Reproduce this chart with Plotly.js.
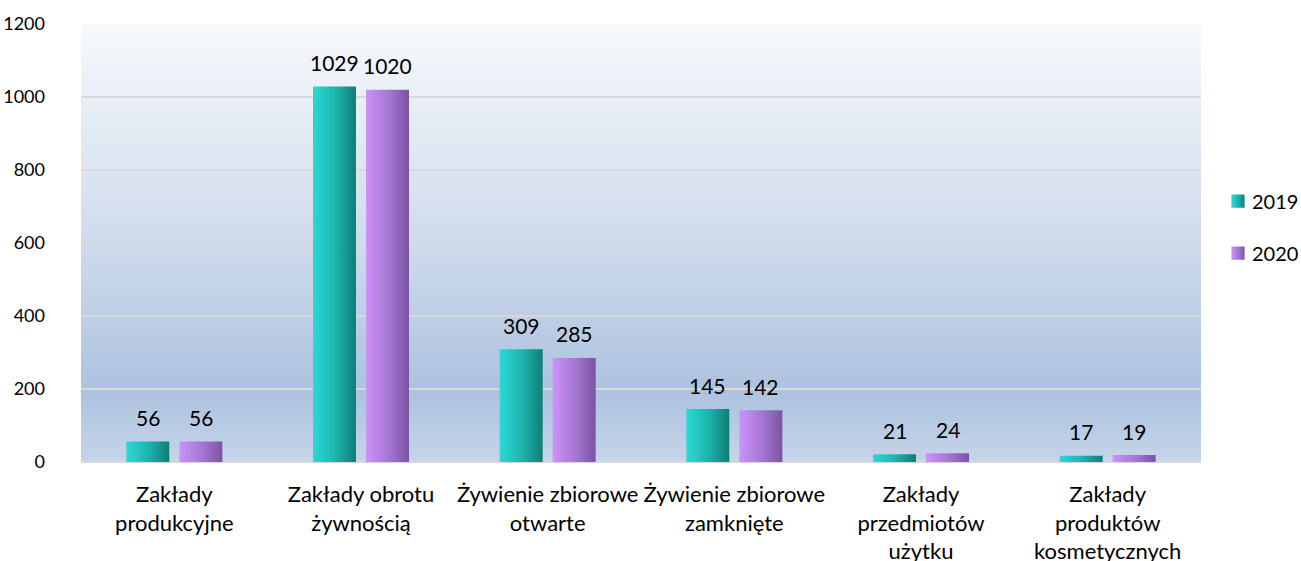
<!DOCTYPE html>
<html>
<head>
<meta charset="utf-8">
<script src="https://cdn.plot.ly/plotly-3.0.1.min.js"></script>
<style>
html,body{margin:0;padding:0;background:#fff;}
#chart{width:1301px;height:561px;}
</style>
</head>
<body>
<div id="chart"></div>
<script>
const categories = [
  "Zakłady<br>produkcyjne",
  "Zakłady obrotu<br>żywnością",
  "Żywienie zbiorowe<br>otwarte",
  "Żywienie zbiorowe<br>zamknięte",
  "Zakłady<br>przedmiotów<br>użytku",
  "Zakłady<br>produktów<br>kosmetycznych"
];
const values2019 = [56, 1029, 309, 145, 21, 17];
const values2020 = [56, 1020, 285, 142, 24, 19];
const seriesNames = ["2019", "2020"];
const yTicks = [0, 200, 400, 600, 800, 1000, 1200];

const FONT = "Lato, 'Open Sans', sans-serif";

const traces = [
  {type:'bar', name:seriesNames[0], x:categories, y:values2019,
   marker:{color:'#1fb3ad'}, legendgroup:'a', hoverinfo:'none'},
  {type:'bar', name:seriesNames[1], x:categories, y:values2020,
   marker:{color:'#a874d4'}, legendgroup:'b', hoverinfo:'none'}
];

const annotations = [];
[values2019, values2020].forEach((vals, si) => {
  vals.forEach((v, i) => {
    annotations.push({
      x: categories[i], y: v, xref:'x', yref:'y',
      text: String(v), showarrow:false,
      xshift: si === 0 ? -26.5 : 26.5,
      yanchor:'middle', yshift: 24,
      font:{family:FONT, size:21, color:'#000'}
    });
  });
});

const layout = {
  width:1301, height:561,
  margin:{l:81, r:100, t:24, b:99, autoexpand:false},
  paper_bgcolor:'#ffffff',
  plot_bgcolor:'#c8d6ea',
  barmode:'group',
  bargap:0.432,
  bargroupgap:0.189,
  showlegend:true,
  legend:{
    x:1.0098, xanchor:'left', y:0.64, yanchor:'top',
    font:{family:FONT, size:20, color:'#000'},
    traceorder:'grouped', tracegroupgap:23,
    bgcolor:'rgba(0,0,0,0)', itemwidth:30
  },
  xaxis:{
    type:'category', automargin:false,
    showgrid:false, showline:false, zeroline:false,
    ticks:'', tickfont:{family:FONT, size:22, color:'#000'},
    ticklabelstandoff:17, fixedrange:true
  },
  yaxis:{
    range:[0,1200], tickvals:yTicks, ticktext:yTicks.map(String), automargin:false,
    showgrid:true, gridcolor:'#d9d9d9', gridwidth:2,
    zeroline:true, zerolinecolor:'#d9d9d9', zerolinewidth:2,
    showline:false, ticks:'',
    tickfont:{family:FONT, size:18, color:'#000'},
    ticklabelstandoff:35, fixedrange:true
  },
  annotations: annotations
};

function applyGradients(gd){
  const svg = gd.querySelector('svg.main-svg');
  if(!svg) return;
  const ns = 'http://www.w3.org/2000/svg';
  let defs = svg.querySelector('defs');
  if(!defs){ defs = document.createElementNS(ns,'defs'); svg.insertBefore(defs, svg.firstChild); }
  function grad(id, x2, y2, stops){
    if(defs.querySelector('#'+id)) return;
    const g = document.createElementNS(ns,'linearGradient');
    g.setAttribute('id', id);
    g.setAttribute('x1','0'); g.setAttribute('y1','0');
    g.setAttribute('x2',x2); g.setAttribute('y2',y2);
    stops.forEach(s => {
      const st = document.createElementNS(ns,'stop');
      st.setAttribute('offset', s[0]);
      st.setAttribute('stop-color', s[1]);
      g.appendChild(st);
    });
    defs.appendChild(g);
  }
  grad('gTeal','1','0',[['0','#2ad9d6'],['0.5','#1eb6b0'],['1','#127c76']]);
  grad('gPurp','1','0',[['0','#cd91fb'],['0.5','#a878d6'],['1','#7a54a1']]);
  grad('gBg','0','1',[['0','#f7f9fc'],['0.45','#d3deed'],['0.84','#adc2df'],['1','#c5d5e9']]);
  const fills = ['url(#gTeal)','url(#gPurp)'];
  gd.querySelectorAll('.barlayer .trace.bars').forEach((t, i) => {
    t.querySelectorAll('path').forEach(p => { p.style.fill = fills[i % 2]; });
  });
  gd.querySelectorAll('.legend .traces').forEach((t, i) => {
    t.querySelectorAll('.legendpoints path').forEach(p => {
      p.style.fill = fills[i % 2]; p.style.stroke = 'none';
      const old = p.getAttribute('transform') || '';
      p.setAttribute('transform', old + ' translate(6,0) scale(1.1)');
    });
  });
  gd.querySelectorAll('.bglayer rect.bg').forEach(r => { r.style.fill = 'url(#gBg)'; });
}

Plotly.newPlot('chart', traces, layout, {displayModeBar:false, staticPlot:true}).then(gd => {
  applyGradients(gd);
});
</script>
</body>
</html>
